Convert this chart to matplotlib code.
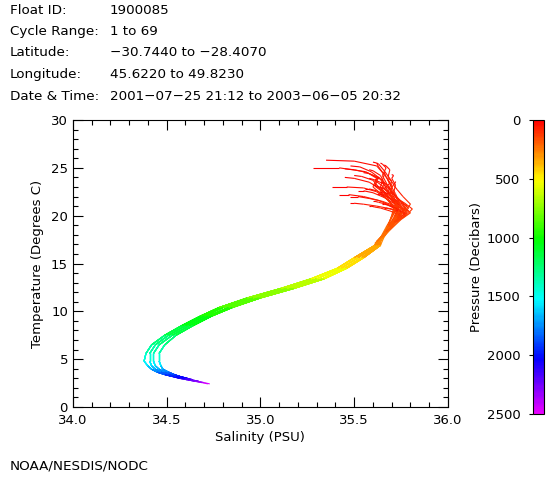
import numpy as np
import matplotlib
matplotlib.use("Agg")
import matplotlib.pyplot as plt
from matplotlib.collections import LineCollection
from matplotlib.colors import ListedColormap, Normalize
from matplotlib.ticker import MultipleLocator

# Header info
header_keys = ["Float ID:", "Cycle Range:", "Latitude:", "Longitude:", "Date & Time:"]
header_vals = ["1900085", "1 to 69", "\u221230.7440 to \u221228.4070",
               "45.6220 to 49.8230", "2001\u221207\u221225 21:12 to 2003\u221206\u221205 20:32"]

# Upper ocean, one row per profile (pressures in decibars)
upper_pres = [5, 20, 40, 60, 80, 100, 125, 150, 200, 250]
upper_temp = [
    [25.0, 25.0, 24.6, 23.8, 22.6, 21.5, 20.6, 19.8, 18.7, 17.7],
    [25.8, 25.7, 25.2, 24.3, 23.0, 21.8, 20.8, 20.0, 18.8, 17.8],
    [24.5, 24.4, 24.0, 23.1, 22.2, 21.2, 20.4, 19.7, 18.6, 17.6],
    [25.5, 25.4, 24.7, 23.6, 22.4, 21.4, 20.6, 19.9, 18.8, 17.8],
    [24.0, 23.9, 23.5, 22.8, 21.9, 21.0, 20.3, 19.6, 18.5, 17.5],
    [23.0, 23.0, 22.9, 22.5, 21.8, 20.9, 20.2, 19.5, 18.4, 17.4],
    [22.8, 22.8, 22.6, 22.1, 21.4, 20.7, 20.1, 19.4, 18.4, 17.4],
    [22.0, 22.0, 21.8, 21.5, 21.0, 20.5, 19.9, 19.3, 18.3, 17.3],
    [21.5, 21.5, 21.4, 21.2, 20.8, 20.3, 19.8, 19.2, 18.2, 17.2],
    [24.8, 24.7, 24.2, 23.4, 22.5, 21.6, 20.8, 20.0, 18.9, 17.8],
    [25.5, 25.4, 25.0, 24.2, 23.1, 22.0, 21.1, 20.3, 19.0, 17.9],
    [23.5, 23.4, 23.1, 22.5, 21.7, 20.9, 20.2, 19.6, 18.6, 17.5],
    [22.5, 22.5, 22.3, 21.9, 21.3, 20.7, 20.1, 19.5, 18.5, 17.4],
    [21.0, 21.0, 20.9, 20.8, 20.5, 20.1, 19.7, 19.2, 18.2, 17.2],
    [20.8, 20.8, 20.7, 20.6, 20.4, 20.0, 19.6, 19.1, 18.1, 17.1],
    [24.2, 24.1, 23.7, 23.0, 22.1, 21.2, 20.5, 19.8, 18.8, 17.7],
    [23.8, 23.7, 23.4, 22.8, 22.0, 21.1, 20.4, 19.7, 18.7, 17.6],
    [22.2, 22.2, 22.0, 21.6, 21.0, 20.4, 19.9, 19.4, 18.4, 17.4],
    [25.2, 25.1, 24.6, 23.7, 22.7, 21.7, 20.8, 20.0, 18.9, 17.8],
    [21.8, 21.8, 21.7, 21.4, 21.0, 20.5, 19.9, 19.3, 18.3, 17.3],
    [21.3, 21.3, 21.2, 21.0, 20.7, 20.2, 19.7, 19.2, 18.2, 17.2],
    [24.6, 24.5, 24.1, 23.3, 22.3, 21.4, 20.6, 19.9, 18.9, 17.8],
    [25.6, 25.5, 25.1, 24.3, 23.2, 22.1, 21.2, 20.3, 19.0, 17.9],
    [23.2, 23.1, 22.8, 22.2, 21.5, 20.8, 20.1, 19.5, 18.5, 17.5],
    [24.3, 24.2, 23.9, 23.2, 22.4, 21.5, 20.7, 20.0, 18.8, 17.7],
    [22.6, 22.6, 22.4, 21.9, 21.2, 20.6, 20.0, 19.4, 18.4, 17.4],
    [20.6, 20.6, 20.5, 20.4, 20.2, 19.9, 19.5, 19.0, 18.1, 17.1],
    [23.9, 23.8, 23.4, 22.7, 21.8, 21.0, 20.3, 19.6, 18.6, 17.5],
    [25.3, 25.2, 24.8, 24.0, 23.3, 22.4, 21.4, 20.5, 19.1, 17.9],
    [24.9, 24.8, 24.5, 23.9, 23.0, 22.0, 21.0, 20.1, 18.9, 17.8],
    [23.6, 23.5, 23.2, 22.7, 22.0, 21.2, 20.5, 19.8, 18.7, 17.6],
    [22.3, 22.3, 22.1, 21.7, 21.1, 20.5, 19.9, 19.3, 18.3, 17.3],
    [24.0, 24.0, 23.7, 23.1, 22.3, 21.4, 20.6, 19.9, 18.8, 17.7],
    [21.2, 21.2, 21.1, 20.9, 20.6, 20.2, 19.8, 19.3, 18.3, 17.3],
]
upper_sal = [
    [35.28, 35.42, 35.56, 35.64, 35.68, 35.71, 35.73, 35.71, 35.68, 35.65],
    [35.35, 35.50, 35.62, 35.66, 35.64, 35.69, 35.74, 35.72, 35.69, 35.66],
    [35.55, 35.58, 35.63, 35.61, 35.67, 35.72, 35.78, 35.74, 35.69, 35.64],
    [35.62, 35.63, 35.66, 35.70, 35.68, 35.73, 35.76, 35.73, 35.70, 35.66],
    [35.45, 35.50, 35.58, 35.64, 35.70, 35.76, 35.80, 35.75, 35.69, 35.64],
    [35.38, 35.46, 35.55, 35.62, 35.67, 35.72, 35.74, 35.71, 35.67, 35.63],
    [35.56, 35.58, 35.62, 35.67, 35.72, 35.77, 35.75, 35.72, 35.68, 35.63],
    [35.48, 35.52, 35.58, 35.65, 35.72, 35.79, 35.76, 35.72, 35.67, 35.62],
    [35.60, 35.61, 35.63, 35.67, 35.71, 35.75, 35.73, 35.70, 35.66, 35.62],
    [35.58, 35.60, 35.64, 35.66, 35.64, 35.68, 35.71, 35.70, 35.68, 35.65],
    [35.64, 35.65, 35.67, 35.65, 35.68, 35.71, 35.73, 35.71, 35.68, 35.66],
    [35.65, 35.66, 35.68, 35.70, 35.74, 35.77, 35.75, 35.72, 35.68, 35.64],
    [35.64, 35.65, 35.68, 35.72, 35.77, 35.81, 35.78, 35.74, 35.69, 35.63],
    [35.58, 35.59, 35.61, 35.64, 35.69, 35.74, 35.72, 35.69, 35.66, 35.62],
    [35.66, 35.67, 35.69, 35.72, 35.76, 35.77, 35.74, 35.70, 35.66, 35.61],
    [35.50, 35.54, 35.60, 35.63, 35.67, 35.70, 35.72, 35.70, 35.67, 35.64],
    [35.68, 35.68, 35.69, 35.66, 35.70, 35.74, 35.76, 35.72, 35.68, 35.64],
    [35.42, 35.47, 35.55, 35.63, 35.70, 35.75, 35.73, 35.70, 35.67, 35.63],
    [35.48, 35.53, 35.59, 35.65, 35.70, 35.73, 35.72, 35.70, 35.68, 35.65],
    [35.70, 35.70, 35.72, 35.74, 35.78, 35.76, 35.73, 35.70, 35.67, 35.62],
    [35.48, 35.50, 35.55, 35.62, 35.70, 35.75, 35.73, 35.70, 35.66, 35.62],
    [35.66, 35.66, 35.67, 35.69, 35.72, 35.74, 35.72, 35.70, 35.68, 35.65],
    [35.60, 35.62, 35.63, 35.66, 35.70, 35.69, 35.72, 35.71, 35.68, 35.65],
    [35.60, 35.62, 35.66, 35.71, 35.75, 35.79, 35.76, 35.72, 35.68, 35.63],
    [35.70, 35.71, 35.70, 35.72, 35.71, 35.74, 35.75, 35.72, 35.69, 35.65],
    [35.52, 35.55, 35.60, 35.66, 35.72, 35.74, 35.72, 35.70, 35.67, 35.63],
    [35.72, 35.72, 35.73, 35.75, 35.77, 35.75, 35.72, 35.69, 35.66, 35.62],
    [35.58, 35.60, 35.65, 35.69, 35.73, 35.78, 35.75, 35.71, 35.68, 35.64],
    [35.66, 35.67, 35.69, 35.68, 35.71, 35.69, 35.72, 35.74, 35.70, 35.66],
    [35.45, 35.50, 35.57, 35.62, 35.60, 35.66, 35.71, 35.73, 35.69, 35.65],
    [35.72, 35.72, 35.71, 35.73, 35.76, 35.80, 35.77, 35.73, 35.69, 35.64],
    [35.62, 35.63, 35.66, 35.70, 35.74, 35.72, 35.75, 35.71, 35.67, 35.62],
    [35.62, 35.63, 35.61, 35.65, 35.69, 35.72, 35.74, 35.72, 35.69, 35.65],
    [35.65, 35.66, 35.68, 35.71, 35.74, 35.78, 35.76, 35.72, 35.67, 35.62],
]

# Deep part (shared temperature, four salinity variants)
deep_pres = [300, 400, 500, 600, 700, 800, 900, 1000, 1100, 1200, 1300, 1400,
             1500, 1600, 1700, 1800, 1900, 2000, 2100, 2200, 2300, 2400, 2500]
deep_temp = [16.9, 15.6, 14.5, 13.4, 12.4, 11.4, 10.4, 9.5, 8.5, 7.5, 6.5, 5.6,
             4.8, 4.3, 3.95, 3.65, 3.4, 3.2, 3.0, 2.85, 2.7, 2.55, 2.42]
deep_sal_mid = [35.62, 35.52, 35.43, 35.30, 35.14, 34.96, 34.80, 34.70, 34.60, 34.51, 34.44, 34.41,
                34.41, 34.42, 34.44, 34.47, 34.51, 34.55, 34.59, 34.62, 34.66, 34.70, 34.73]
deep_sal_fresh = [35.61, 35.50, 35.41, 35.27, 35.11, 34.93, 34.78, 34.68, 34.58, 34.49, 34.42, 34.39,
                  34.38, 34.40, 34.42, 34.45, 34.49, 34.53, 34.57, 34.61, 34.65, 34.69, 34.72]
deep_sal_salty = [35.63, 35.54, 35.45, 35.33, 35.17, 34.99, 34.83, 34.72, 34.62, 34.53, 34.46, 34.43,
                  34.43, 34.44, 34.46, 34.49, 34.53, 34.57, 34.60, 34.63, 34.67, 34.70, 34.73]
deep_sal_salty2 = [35.64, 35.55, 35.46, 35.34, 35.18, 35.00, 34.85, 34.74, 34.64, 34.55, 34.49, 34.46,
                   34.46, 34.47, 34.48, 34.51, 34.54, 34.57, 34.61, 34.64, 34.67, 34.70, 34.73]
max_pres = [2500, 2000, 2300, 1900, 2400, 2100, 2000, 2200, 1800, 2300, 2000, 2100,
            1900, 2500, 2000, 2200, 2100, 1900, 2300, 2000, 2100, 2000, 1800, 2200,
            2000, 2400, 1900, 2100, 2200, 2000, 2300, 1900, 2100, 2000]

deep_sals = [deep_sal_mid, deep_sal_fresh, deep_sal_salty, deep_sal_salty2]

cmap = ListedColormap(plt.cm.hsv(np.linspace(0, 5 / 6, 256)))
norm = Normalize(0, 2500)

fig = plt.figure(figsize=(5.6, 4.8), dpi=100)
ax = fig.add_axes([0.130, 0.152, 0.670, 0.598])
cax = fig.add_axes([0.952, 0.1375, 0.019, 0.6125])

for i in range(len(upper_temp)):
    ds = deep_sals[i % 4]
    n = sum(1 for p in deep_pres if p <= max_pres[i])
    pres = np.array(upper_pres + deep_pres[:n], dtype=float)
    temp = np.array(upper_temp[i] + deep_temp[:n])
    sal = np.array(upper_sal[i] + ds[:n])
    pts = np.column_stack([sal, temp]).reshape(-1, 1, 2)
    segs = np.concatenate([pts[:-1], pts[1:]], axis=1)
    lc = LineCollection(segs, cmap=cmap, norm=norm, linewidths=0.8)
    lc.set_array((pres[:-1] + pres[1:]) / 2)
    ax.add_collection(lc)

ax.set_xlim(34.0, 36.0)
ax.set_ylim(0, 30)
ax.xaxis.set_major_locator(MultipleLocator(0.5))
ax.xaxis.set_minor_locator(MultipleLocator(0.1))
ax.yaxis.set_major_locator(MultipleLocator(5))
ax.yaxis.set_minor_locator(MultipleLocator(1))
ax.xaxis.set_major_formatter(plt.FormatStrFormatter("%.1f"))
ax.tick_params(which="both", direction="in", top=True, right=True, labelsize=9.5, width=0.8)
ax.tick_params(which="major", length=7)
ax.tick_params(which="minor", length=3.5)
ax.tick_params(axis="x", pad=5)
for s in ax.spines.values():
    s.set_linewidth(0.8)
ax.set_xlabel("Salinity (PSU)", fontsize=9.5, labelpad=3)
ax.set_ylabel("Temperature (Degrees C)", fontsize=9.5, labelpad=5)

cb = fig.colorbar(plt.cm.ScalarMappable(norm=norm, cmap=cmap), cax=cax)
cb.set_ticks([0, 500, 1000, 1500, 2000, 2500])
cax.invert_yaxis()
cax.yaxis.set_ticks_position("left")
cax.yaxis.set_label_position("left")
cax.tick_params(labelsize=9.5, length=3, width=0.8, pad=6)
cb.outline.set_linewidth(0.8)
cb.set_label("Pressure (Decibars)", fontsize=9.5, labelpad=3)

for k, (key, val) in enumerate(zip(header_keys, header_vals)):
    y = 1 - (10 + 21.5 * k) / 480
    fig.text(10 / 560, y, key, fontsize=9.7, va="center")
    fig.text(110 / 560, y, val, fontsize=9.7, va="center")

fig.text(10 / 560, 1 - 466 / 480, "NOAA/NESDIS/NODC", fontsize=9.7, va="center")

fig.savefig("out.png", dpi=100)
